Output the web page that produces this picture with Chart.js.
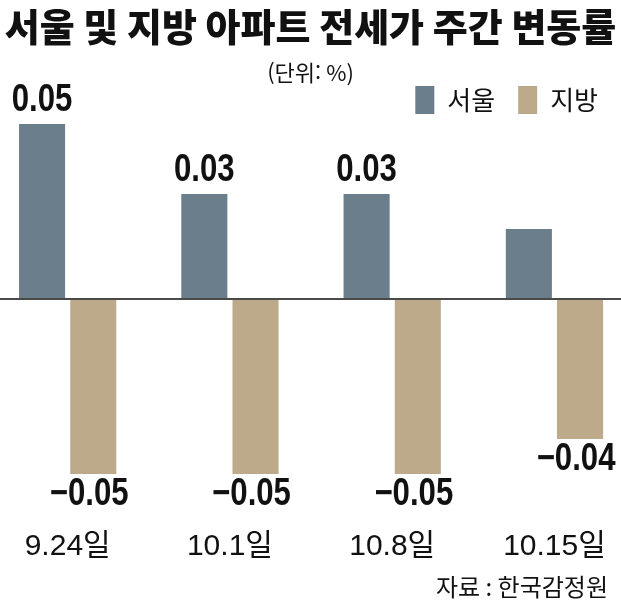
<!DOCTYPE html>
<html lang="ko">
<head>
<meta charset="utf-8">
<title>서울 및 지방 아파트 전세가 주간 변동률</title>
<script src="https://cdn.jsdelivr.net/npm/chart.js@4/dist/chart.umd.min.js"></script>
<style>
    html, body { margin: 0; padding: 0; background: #ffffff; }
    #wrap { position: relative; width: 621px; height: 602px; }
</style>
</head>
<body>
<div id="wrap"><canvas id="grafico"></canvas></div>
<script>
// Datos del gráfico
const fechas = ["9.24일", "10.1일", "10.8일", "10.15일"];
const seoul = [0.05, 0.03, 0.03, 0.02];
const jibang = [-0.05, -0.05, -0.05, -0.04];
const seoulConEtiqueta = [true, true, true, false];
const jibangConEtiqueta = [true, true, true, true];

const COLOR_SEOUL = "#6b7e8b";
const COLOR_JIBANG = "#bdaa8a";
const FUENTE_KR = "'Noto Sans CJK KR', 'Noto Sans', sans-serif";
const FUENTE_NUM = "'Liberation Sans', Arial, sans-serif";

// Formato de los números sobre las barras
function formatear(v) {
    const s = Math.abs(v).toFixed(2);
    return v < 0 ? "\u2212" + s : s;
}

// Etiquetas de valor encima / debajo de cada barra (letra estrecha)
const etiquetasBarras = {
    id: "etiquetasBarras",
    afterDatasetsDraw(chart) {
        const ctx = chart.ctx;
        const marcas = [seoulConEtiqueta, jibangConEtiqueta];
        chart.data.datasets.forEach((ds, d) => {
            chart.getDatasetMeta(d).data.forEach((bar, i) => {
                if (!marcas[d][i]) return;
                const v = ds.data[i].y;
                const x = v >= 0 ? bar.x : bar.x - 4;
                const y = v >= 0 ? bar.y - 13 : bar.y + 31;
                ctx.save();
                ctx.translate(x, y);
                ctx.scale(0.82, 1);
                ctx.font = "bold 38px " + FUENTE_NUM;
                ctx.fillStyle = "#111111";
                ctx.textAlign = "center";
                ctx.textBaseline = "alphabetic";
                ctx.fillText(formatear(v), 0, 0);
                ctx.restore();
            });
        });
    }
};

// Nota de la fuente abajo a la derecha
const notaFuente = {
    id: "notaFuente",
    afterDraw(chart) {
        const ctx = chart.ctx;
        ctx.save();
        ctx.font = "24px " + FUENTE_KR;
        ctx.fillStyle = "#111111";
        ctx.textAlign = "right";
        ctx.textBaseline = "middle";
        ctx.fillText("자료 : 한국감정원", chart.width - 13, 587);
        ctx.restore();
    }
};

const ctx = document.getElementById("grafico").getContext("2d");

new Chart(ctx, {
    type: "bar",
    data: {
        datasets: [
            {
                label: "서울",
                data: seoul.map((v, i) => ({ x: i, y: v })),
                backgroundColor: COLOR_SEOUL
            },
            {
                label: "지방",
                data: jibang.map((v, i) => ({ x: i, y: v })),
                backgroundColor: COLOR_JIBANG
            }
        ]
    },
    options: {
        responsive: true,
        maintainAspectRatio: false,
        animation: false,
        categoryPercentage: 0.631,
        barPercentage: 0.9,
        layout: { padding: { left: 0, right: 0, top: 0, bottom: 25 } },
        plugins: {
            title: {
                display: true,
                text: "서울 및 지방 아파트 전세가 주간 변동률",
                color: "#111111",
                font: { family: FUENTE_KR, size: 38, weight: "900", lineHeight: 1.2 },
                padding: { top: 4, bottom: 0 }
            },
            subtitle: {
                display: true,
                text: "(단위: %)",
                color: "#111111",
                font: { family: FUENTE_KR, size: 22, lineHeight: 1.2 },
                padding: { top: 10, bottom: -23 }
            },
            legend: {
                position: "top",
                align: "end",
                labels: {
                    boxWidth: 19,
                    boxHeight: 28,
                    padding: 23,
                    color: "#111111",
                    font: { family: FUENTE_KR, size: 26 }
                }
            },
            tooltip: { enabled: false }
        },
        scales: {
            x: {
                type: "linear",
                min: -0.417,
                max: 3.41,
                offset: false,
                grid: { display: false },
                border: { display: false },
                ticks: {
                    stepSize: 1,
                    includeBounds: false,
                    autoSkip: false,
                    maxRotation: 0,
                    padding: 12,
                    color: "#111111",
                    font: { family: FUENTE_NUM + ", " + FUENTE_KR, size: 30, lineHeight: 1.2 },
                    callback: (v) => Number.isInteger(v) ? fechas[v] : null
                }
            },
            y: {
                min: -0.06,
                max: 0.05,
                border: { display: false },
                ticks: { display: false, stepSize: 0.01 },
                grid: {
                    drawTicks: false,
                    color: (c) => Math.abs(c.tick.value) < 1e-9 ? "#4a4a4a" : "rgba(0,0,0,0)",
                    lineWidth: (c) => Math.abs(c.tick.value) < 1e-9 ? 2 : 0
                }
            }
        }
    },
    plugins: [etiquetasBarras, notaFuente]
});
</script>
</body>
</html>
